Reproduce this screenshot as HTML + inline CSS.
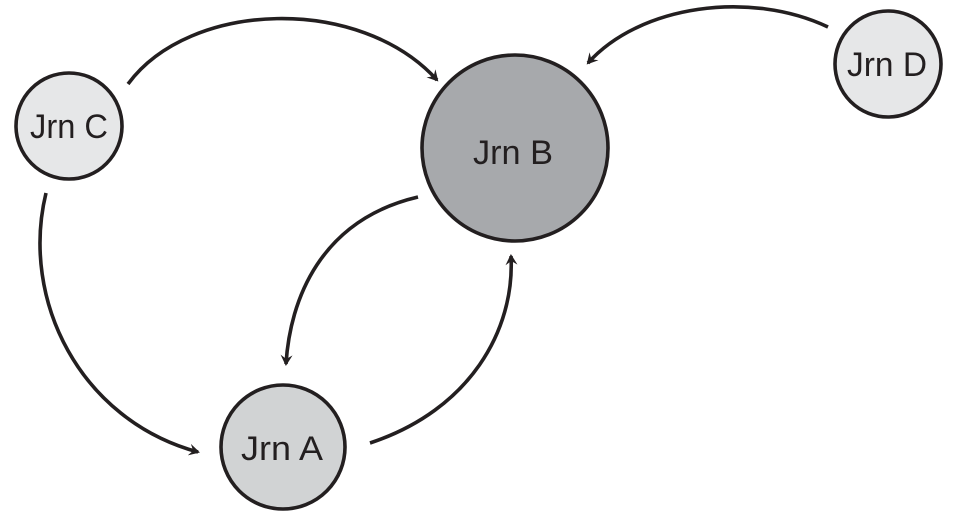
<!DOCTYPE html>
<html><head><style>html,body{margin:0;padding:0;background:#fff}svg{display:block}</style></head>
<body>
<svg width="960" height="520" viewBox="0 0 960 520" xmlns="http://www.w3.org/2000/svg">
<defs>
<marker id="ah" markerWidth="14" markerHeight="14" refX="9" refY="7" orient="auto" markerUnits="userSpaceOnUse">
<path d="M0,1 L11,7 L0,13 L4,7 Z" fill="#231f20"/>
</marker>
</defs>
<g fill="none" stroke="#231f20" stroke-width="3.6" marker-end="url(#ah)">
<path d="M128,84 C190,0 360,-5 437,80"/>
<path d="M828,27 C750,-10 640,5 588,63"/>
<path d="M46,193 C20,300 80,420 198,452"/>
<path d="M418,197 C320,220 290,300 286,364"/>
<path d="M370,443 C470,410 515,330 511,256"/>
</g>
<g stroke="#231f20" stroke-width="3.6">
<circle cx="69" cy="126" r="53" fill="#e6e7e8"/>
<circle cx="888" cy="64" r="53" fill="#e6e7e8"/>
<circle cx="515" cy="148" r="93" fill="#a7a9ac"/>
<circle cx="283" cy="447" r="62" fill="#d1d3d4"/>
</g>
<g font-family="Liberation Sans, sans-serif" font-size="34" fill="#231f20" text-anchor="middle">
<text x="69" y="138" textLength="78" lengthAdjust="spacingAndGlyphs">Jrn C</text>
<text x="887" y="76" textLength="80" lengthAdjust="spacingAndGlyphs">Jrn D</text>
<text x="513" y="164" textLength="80" lengthAdjust="spacingAndGlyphs">Jrn B</text>
<text x="282" y="460" textLength="82" lengthAdjust="spacingAndGlyphs">Jrn A</text>
</g>
</svg>
</body></html>
